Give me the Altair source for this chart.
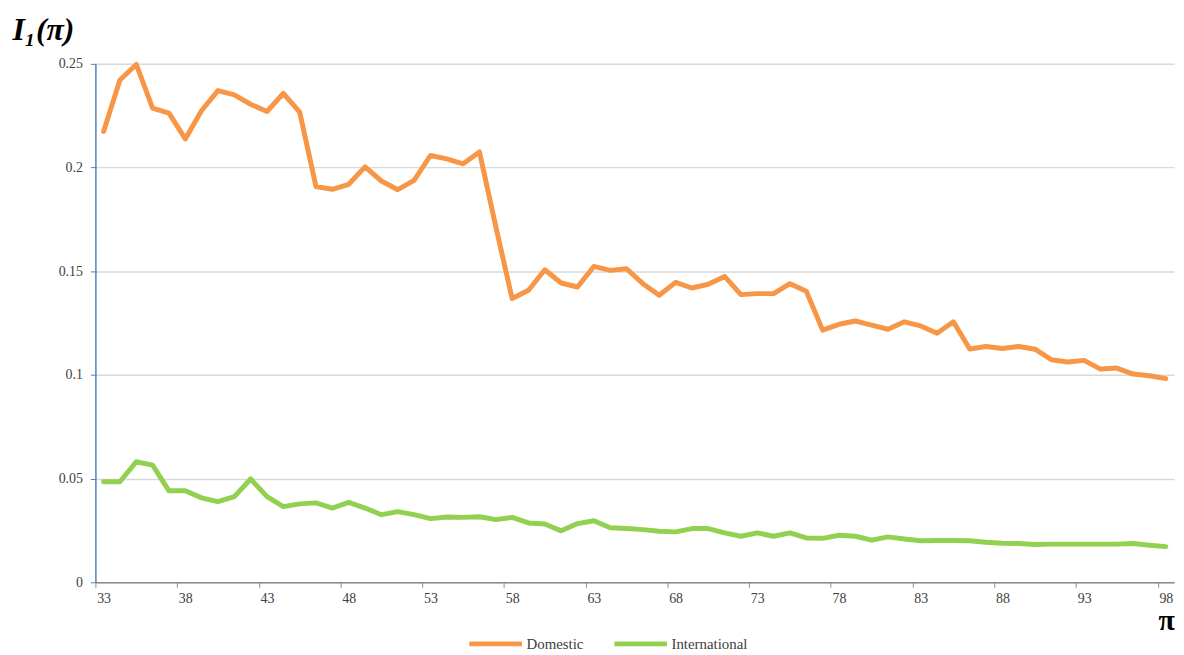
import altair as alt
import pandas as pd

pi_values = list(range(33, 99))

domestic = [
    0.2174, 0.2422, 0.2497, 0.2286, 0.2262, 0.2138, 0.2275, 0.2371, 0.2350, 0.2305,
    0.2270, 0.2358, 0.2267, 0.1908, 0.1895, 0.1919, 0.2003, 0.1935, 0.1893, 0.1938,
    0.2058, 0.2042, 0.2018, 0.2075, 0.1715, 0.1368, 0.1408, 0.1507, 0.1443, 0.1424,
    0.1523, 0.1504, 0.1512, 0.1440, 0.1384, 0.1446, 0.1419, 0.1437, 0.1475, 0.1387,
    0.1392, 0.1392, 0.1440, 0.1403, 0.1216, 0.1244, 0.1260, 0.1240, 0.1220, 0.1256,
    0.1236, 0.1201, 0.1256, 0.1125, 0.1137, 0.1127, 0.1137, 0.1124, 0.1073, 0.1062,
    0.1070, 0.1028, 0.1033, 0.1004, 0.0996, 0.0982,
]

international = [
    0.0485, 0.0485, 0.0581, 0.0565, 0.0441, 0.0441, 0.0407, 0.0389, 0.0413, 0.0498,
    0.0413, 0.0365, 0.0378, 0.0383, 0.0358, 0.0385, 0.0358, 0.0326, 0.0341, 0.0326,
    0.0307, 0.0315, 0.0313, 0.0316, 0.0302, 0.0313, 0.0286, 0.0281, 0.0248, 0.0283,
    0.0297, 0.0263, 0.0259, 0.0254, 0.0246, 0.0243, 0.0259, 0.0259, 0.0238, 0.0222,
    0.0238, 0.0222, 0.0238, 0.0214, 0.0212, 0.0227, 0.0222, 0.0203, 0.0219, 0.0209,
    0.0200, 0.0201, 0.0201, 0.0200, 0.0193, 0.0188, 0.0187, 0.0182, 0.0184, 0.0184,
    0.0184, 0.0184, 0.0184, 0.0187, 0.0179, 0.0172,
]

series_names = ["Domestic", "International"]
series_colors = ["#F79646", "#92D050"]
y_ticks = [0, 0.05, 0.1, 0.15, 0.2, 0.25]
x_tick_bounds = [32.5 + 5 * k for k in range(14)]

df = pd.concat([
    pd.DataFrame({"pi": pi_values, "value": domestic, "series": "Domestic"}),
    pd.DataFrame({"pi": pi_values, "value": international, "series": "International"}),
])

FONT = "Liberation Serif"

chart = alt.Chart(df).mark_line(strokeWidth=5, strokeJoin="round", strokeCap="round").encode(
    x=alt.X(
        "pi:Q",
        scale=alt.Scale(domain=[32.5, 98.5], nice=False, zero=False),
        axis=alt.Axis(
            values=x_tick_bounds,
            labelExpr="format(datum.value + 0.5, 'd')",
            labelOffset=8.24,
            labelFlush=False,
            labelOverlap=False,
            grid=False,
            domainColor="#8c8c8c",
            domainWidth=1.5,
            tickColor="#8c8c8c",
            tickSize=5,
            labelFont=FONT,
            labelFontSize=14,
            labelColor="#404040",
            labelPadding=4,
            title="π",
            titleFont=FONT,
            titleFontSize=30,
            titleFontWeight="bold",
            titleColor="#000000",
            titleAngle=0,
            titleAlign="left",
            titleBaseline="alphabetic",
            titleX=1070,
            titleY=48,
        ),
    ),
    y=alt.Y(
        "value:Q",
        scale=alt.Scale(domain=[0, 0.25], nice=False),
        axis=alt.Axis(
            values=y_ticks,
            labelExpr="datum.value == 0 ? '0' : format(datum.value, '.2~f')",
            gridColor="#d9d9d9",
            gridWidth=1.5,
            domainColor="#4f81bd",
            domainWidth=1.5,
            tickColor="#4f81bd",
            tickSize=5,
            labelFont=FONT,
            labelFontSize=14,
            labelColor="#404040",
            labelPadding=8,
            title="I₁(π)",
            titleFont=FONT,
            titleFontSize=32,
            titleFontStyle="italic",
            titleFontWeight="bold",
            titleColor="#000000",
            titleAngle=0,
            titleAlign="left",
            titleBaseline="alphabetic",
            titleX=-84,
            titleY=-24,
        ),
    ),
    color=alt.Color(
        "series:N",
        scale=alt.Scale(domain=series_names, range=series_colors),
        legend=alt.Legend(
            title=None,
            orient="none",
            direction="horizontal",
            legendX=374,
            legendY=555,
            symbolType="stroke",
            symbolSize=2800,
            symbolStrokeWidth=5,
            labelFont=FONT,
            labelFontSize=15,
            labelColor="#404040",
            columnPadding=20,
            labelOffset=2,
        ),
    ),
).properties(
    width=1086,
    height=522,
    autosize=alt.AutoSizeParams(type="none"),
    padding={"left": 88, "top": 54, "right": 2, "bottom": 71},
).configure_view(stroke=None)

chart.save("out.html", embed_options={"renderer": "svg", "actions": False})
